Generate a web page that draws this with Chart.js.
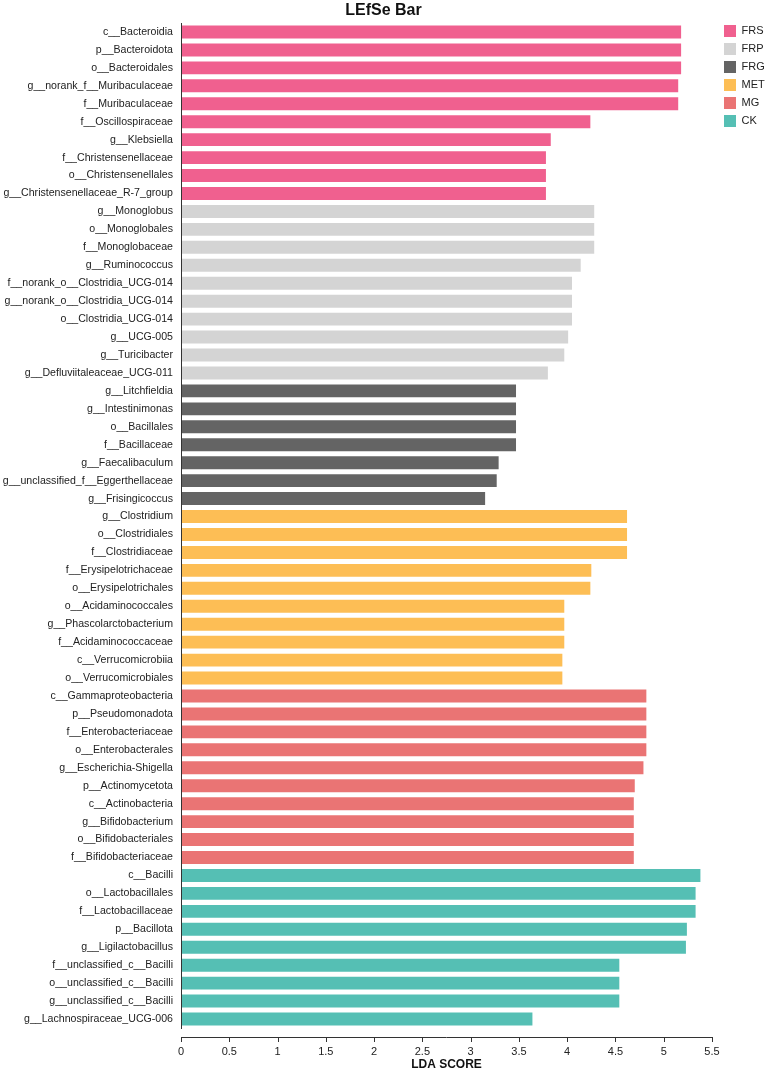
<!DOCTYPE html>
<html>
<head>
<meta charset="utf-8">
<script src="https://cdn.jsdelivr.net/npm/chart.js@4/dist/chart.umd.min.js"></script>
<style>
  body { margin: 0; background: #fff; }
</style>
</head>
<body>
<canvas id="lefse" width="767" height="1074"></canvas>
<script>
// groups, top to bottom
var groups = ['FRS', 'FRP', 'FRG', 'MET', 'MG', 'CK'];
var groupColors = ['#f0608f', '#d4d4d4', '#646464', '#fdbe55', '#ea7474', '#55bfb4'];

var frsLabels = ['c__Bacteroidia', 'p__Bacteroidota', 'o__Bacteroidales', 'g__norank_f__Muribaculaceae', 'f__Muribaculaceae',
    'f__Oscillospiraceae', 'g__Klebsiella', 'f__Christensenellaceae', 'o__Christensenellales', 'g__Christensenellaceae_R-7_group'];
var frsScores = [5.18, 5.18, 5.18, 5.15, 5.15, 4.24, 3.83, 3.78, 3.78, 3.78];

var frpLabels = ['g__Monoglobus', 'o__Monoglobales', 'f__Monoglobaceae', 'g__Ruminococcus', 'f__norank_o__Clostridia_UCG-014',
    'g__norank_o__Clostridia_UCG-014', 'o__Clostridia_UCG-014', 'g__UCG-005', 'g__Turicibacter', 'g__Defluviitaleaceae_UCG-011'];
var frpScores = [4.28, 4.28, 4.28, 4.14, 4.05, 4.05, 4.05, 4.01, 3.97, 3.80];

var frgLabels = ['g__Litchfieldia', 'g__Intestinimonas', 'o__Bacillales', 'f__Bacillaceae', 'g__Faecalibaculum',
    'g__unclassified_f__Eggerthellaceae', 'g__Frisingicoccus'];
var frgScores = [3.47, 3.47, 3.47, 3.47, 3.29, 3.27, 3.15];

var metLabels = ['g__Clostridium', 'o__Clostridiales', 'f__Clostridiaceae', 'f__Erysipelotrichaceae', 'o__Erysipelotrichales',
    'o__Acidaminococcales', 'g__Phascolarctobacterium', 'f__Acidaminococcaceae', 'c__Verrucomicrobiia', 'o__Verrucomicrobiales'];
var metScores = [4.62, 4.62, 4.62, 4.25, 4.24, 3.97, 3.97, 3.97, 3.95, 3.95];

var mgLabels = ['c__Gammaproteobacteria', 'p__Pseudomonadota', 'f__Enterobacteriaceae', 'o__Enterobacterales', 'g__Escherichia-Shigella',
    'p__Actinomycetota', 'c__Actinobacteria', 'g__Bifidobacterium', 'o__Bifidobacteriales', 'f__Bifidobacteriaceae'];
var mgScores = [4.82, 4.82, 4.82, 4.82, 4.79, 4.70, 4.69, 4.69, 4.69, 4.69];

var ckLabels = ['c__Bacilli', 'o__Lactobacillales', 'f__Lactobacillaceae', 'p__Bacillota', 'g__Ligilactobacillus',
    'f__unclassified_c__Bacilli', 'o__unclassified_c__Bacilli', 'g__unclassified_c__Bacilli', 'g__Lachnospiraceae_UCG-006'];
var ckScores = [5.38, 5.33, 5.33, 5.24, 5.23, 4.54, 4.54, 4.54, 3.64];

var xTicks = [0, 0.5, 1, 1.5, 2, 2.5, 3, 3.5, 4, 4.5, 5, 5.5];

var groupLabels = [frsLabels, frpLabels, frgLabels, metLabels, mgLabels, ckLabels];
var groupScores = [frsScores, frpScores, frgScores, metScores, mgScores, ckScores];

var labels = [];
groupLabels.forEach(function (g) { labels = labels.concat(g); });

// one dataset per group, nulls elsewhere so the legend gets one entry per group
var datasets = [];
var start = 0;
groups.forEach(function (name, i) {
    var data = labels.map(function () { return null; });
    groupScores[i].forEach(function (v, j) { data[start + j] = v; });
    start += groupScores[i].length;
    datasets.push({
        label: name,
        data: data,
        backgroundColor: groupColors[i],
        borderWidth: 0,
        barPercentage: 0.72,
        categoryPercentage: 1,
        grouped: false,
        skipNull: true
    });
});

var font = "'Liberation Sans', Arial, sans-serif";
var AXIS_GAP = 9;

var bottomAxis = {
    id: 'bottomAxis',
    afterLayout: function (chart) {
        // nudge legend a bit away from the plot
        chart.legend.left += 6;
        chart.legend.right += 6;
    },
    // bottom axis line sits a little below the bars, as in the original
    afterDraw: function (chart) {
        var ctx = chart.ctx, area = chart.chartArea, x = chart.scales.x;
        var y = Math.round(area.bottom + AXIS_GAP);
        ctx.save();
        ctx.strokeStyle = '#333';
        ctx.lineWidth = 1;
        ctx.beginPath();
        ctx.moveTo(area.left, y + 0.5);
        ctx.lineTo(area.right, y + 0.5);
        xTicks.forEach(function (t) {
            var px = Math.round(x.getPixelForValue(t)) + 0.5;
            ctx.moveTo(px, y);
            ctx.lineTo(px, y + 5);
        });
        ctx.stroke();
        ctx.restore();
    }
};

var ctx = document.getElementById('lefse').getContext('2d');
var chart = new Chart(ctx, {
    type: 'bar',
    data: { labels: labels, datasets: datasets },
    plugins: [bottomAxis],
    options: {
        responsive: false,
        animation: false,
        indexAxis: 'y',
        layout: { padding: { left: 0, right: 0, top: 0, bottom: 2 } },
        plugins: {
            title: {
                display: true,
                text: 'LEfSe Bar',
                color: '#111',
                font: { family: font, size: 16, weight: 'bold' },
                padding: { top: 1, bottom: 2.8 }
            },
            legend: {
                position: 'right',
                align: 'start',
                maxWidth: 55,
                title: { display: true, text: ' ', padding: 2.3, font: { size: 12 } },
                labels: {
                    boxWidth: 12,
                    boxHeight: 12,
                    padding: 6,
                    color: '#222',
                    font: { family: font, size: 11 }
                }
            },
            tooltip: { enabled: false }
        },
        scales: {
            x: {
                min: 0,
                max: 5.5,
                afterBuildTicks: function (scale) {
                    scale.ticks = xTicks.map(function (v) { return { value: v }; });
                },
                afterFit: function (scale) { scale.height = 44; },
                grid: { display: false, drawTicks: false },
                border: { display: false },
                ticks: {
                    padding: 17,
                    color: '#222',
                    maxRotation: 0,
                    font: { family: font, size: 11 },
                    callback: function (v) { return String(v); }
                },
                title: {
                    display: true,
                    text: 'LDA SCORE',
                    color: '#111',
                    padding: { top: 0, bottom: 0 },
                    font: { family: font, size: 12, weight: 'bold' }
                }
            },
            y: {
                afterFit: function (scale) { scale.width = 181; },
                grid: { display: false, drawTicks: false },
                // draw the axis line over the bars so it stays continuous
                border: { display: true, color: '#333', width: 1, z: 1 },
                ticks: {
                    autoSkip: false,
                    padding: 8,
                    color: '#222',
                    font: { family: font, size: 10.6 }
                }
            }
        }
    }
});
</script>
</body>
</html>
